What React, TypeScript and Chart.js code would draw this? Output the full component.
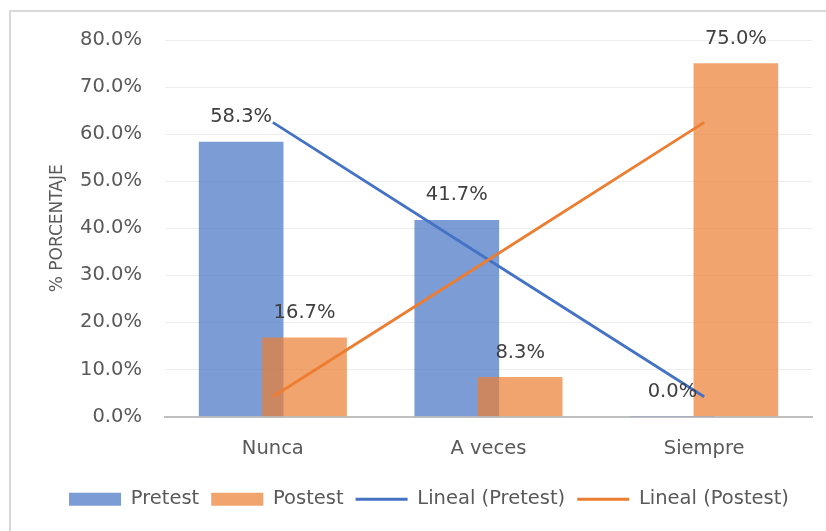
import React, { useEffect, useRef } from "react";
import { Chart, registerables } from "chart.js";

Chart.register(...registerables);

const categories = ["Nunca", "A veces", "Siempre"];
const pretest = [58.3, 41.7, 0.0];
const postest = [16.7, 8.3, 75.0];
const pretestTrend = [62.5, 33.3, 4.2];
const postestTrend = [4.2, 33.3, 62.5];
const yTicks = [0, 10, 20, 30, 40, 50, 60, 70, 80];

const FONT = "'DejaVu Sans', sans-serif";
const FS = 19.5;
const BLUE = "#4472C4";
const ORANGE = "#ED7D31";
const BLUE_FILL = "rgba(68,114,196,0.7)";
const ORANGE_FILL = "rgba(237,125,49,0.7)";
const OFFSET = 0.147;
const LEGEND_SHIFT = 18;

const framePlugin = {
  id: "frame",
  beforeDraw(chart: any) {
    const { ctx, width, height } = chart;
    ctx.save();
    ctx.fillStyle = "#ffffff";
    ctx.fillRect(0, 0, width, height);
    ctx.strokeStyle = "#d9d9d9";
    ctx.lineWidth = 2;
    ctx.beginPath();
    ctx.moveTo(10, height + 2);
    ctx.lineTo(10, 11);
    ctx.lineTo(width + 2, 11);
    ctx.stroke();
    ctx.restore();
  },
  afterLayout(chart: any) {
    const lg = chart.legend;
    if (lg) {
      lg.left += LEGEND_SHIFT;
      lg.right += LEGEND_SHIFT;
    }
  },
};

const labelPlugin = {
  id: "barLabels",
  afterDatasetsDraw(chart: any) {
    const { ctx } = chart;
    ctx.save();
    ctx.font = `${FS}px ${FONT}`;
    ctx.fillStyle = "#404040";
    ctx.textAlign = "center";
    ctx.textBaseline = "middle";
    chart.data.datasets.forEach((ds: any, di: number) => {
      if (ds.type !== "bar") return;
      const meta = chart.getDatasetMeta(di);
      meta.data.forEach((el: any, i: number) => {
        const v = ds.data[i].y;
        ctx.fillText(v.toFixed(1) + "%", el.x, el.y - 25);
      });
    });
    ctx.restore();
  },
};

export default function App() {
  const ref = useRef<HTMLCanvasElement | null>(null);

  useEffect(() => {
    if (!ref.current) return;
    const chart = new Chart(ref.current, {
      type: "bar",
      data: {
        datasets: [
          {
            type: "bar",
            label: "Pretest",
            data: pretest.map((v, i) => ({ x: i - OFFSET, y: v })),
            backgroundColor: BLUE_FILL,
            borderWidth: 0,
            grouped: false,
            barThickness: 84,
            order: 3,
          },
          {
            type: "bar",
            label: "Postest",
            data: postest.map((v, i) => ({ x: i + OFFSET, y: v })),
            backgroundColor: ORANGE_FILL,
            borderWidth: 0,
            grouped: false,
            barThickness: 84,
            order: 2,
          },
          {
            type: "line",
            label: "Lineal (Pretest)",
            data: pretestTrend.map((v, i) => ({ x: i, y: v })),
            borderColor: BLUE,
            backgroundColor: BLUE,
            borderWidth: 2.75,
            pointRadius: 0,
            order: 1,
          },
          {
            type: "line",
            label: "Lineal (Postest)",
            data: postestTrend.map((v, i) => ({ x: i, y: v })),
            borderColor: ORANGE,
            backgroundColor: ORANGE,
            borderWidth: 2.75,
            pointRadius: 0,
            order: 0,
          },
        ] as any,
      },
      options: {
        animation: false,
        responsive: false,
        maintainAspectRatio: false,
        layout: { padding: { left: 10, right: 14, top: 40, bottom: 12 } },
        scales: {
          x: {
            type: "linear",
            min: -0.5,
            max: 2.5,
            offset: false,
            afterBuildTicks: (s: any) => {
              s.ticks = categories.map((_, i) => ({ value: i }));
            },
            afterFit: (s: any) => {
              s.height = 61;
            },
            grid: { display: false, drawTicks: false },
            border: { display: true, color: "#bfbfbf", width: 2 },
            ticks: {
              padding: 21,
              color: "#595959",
              font: { family: FONT, size: FS },
              callback: (v: any) => categories[v] ?? "",
              maxRotation: 0,
            },
          },
          y: {
            min: 0,
            max: 80,
            afterBuildTicks: (s: any) => {
              s.ticks = yTicks.map((v) => ({ value: v }));
            },
            afterFit: (s: any) => {
              s.width = 155;
            },
            grid: { color: "#ededed", lineWidth: 1, drawTicks: false },
            border: { display: false },
            ticks: {
              padding: 23,
              color: "#595959",
              font: { family: FONT, size: FS },
              callback: (v: any) => Number(v).toFixed(1) + "%",
            },
            title: {
              display: true,
              text: "% PORCENTAJE",
              color: "#595959",
              font: { family: FONT, size: 17, weight: "normal" },
              padding: { top: 37, bottom: 0 },
            },
          },
        },
        plugins: {
          tooltip: { enabled: false },
          legend: {
            position: "bottom",
            labels: {
              usePointStyle: true,
              pointStyleWidth: 52,
              boxHeight: 13,
              padding: 12,
              color: "#595959",
              font: { family: FONT, size: FS },
              sort: (a: any, b: any) => a.datasetIndex - b.datasetIndex,
              generateLabels: (c: any) => {
                const items = (Chart.defaults.plugins.legend.labels as any).generateLabels(c);
                return items.map((it: any) => {
                  const ds = c.data.datasets[it.datasetIndex];
                  if (ds.type === "line") {
                    return { ...it, pointStyle: "line", lineWidth: 3, strokeStyle: ds.borderColor };
                  }
                  return { ...it, pointStyle: "rect", lineWidth: 0, strokeStyle: ds.backgroundColor };
                });
              },
            },
          },
        },
      },
      plugins: [framePlugin, labelPlugin],
    } as any);
    return () => chart.destroy();
  }, []);

  return (
    <div style={{ position: "fixed", left: 0, top: 0, width: 826, height: 531 }}>
      <canvas ref={ref} width={826} height={531} style={{ width: 826, height: 531 }} />
    </div>
  );
}
